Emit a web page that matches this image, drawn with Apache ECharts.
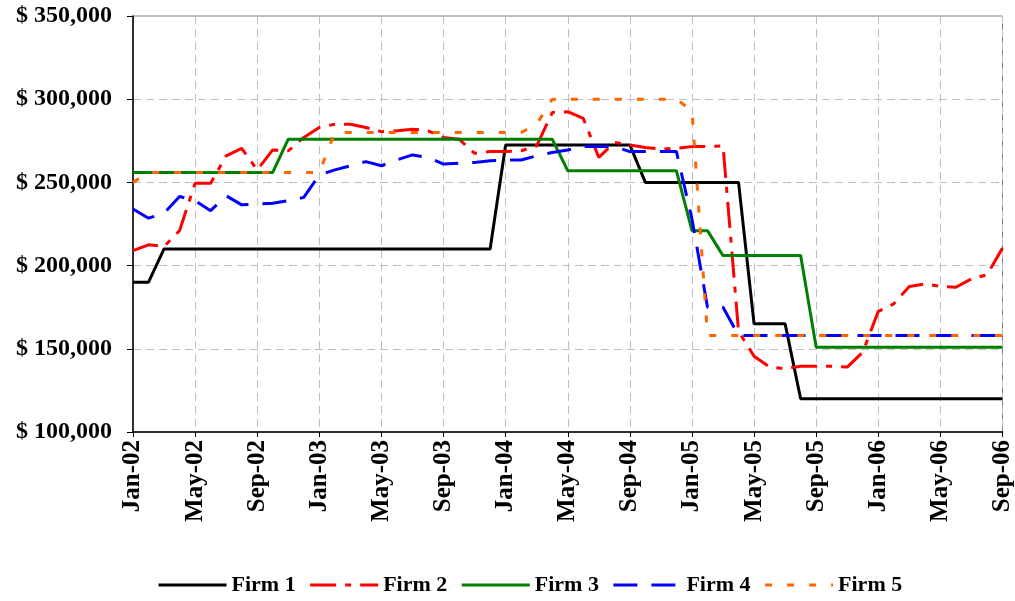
<!DOCTYPE html>
<html><head><meta charset="utf-8">
<script src="https://cdn.jsdelivr.net/npm/echarts@6/dist/echarts.min.js"></script>
<style>html,body{margin:0;padding:0;background:#fff}#c{width:1015px;height:601px}</style>
</head><body><div id="c"></div>
<script>
const months = [
 'Jan-02','Feb-02','Mar-02','Apr-02','May-02','Jun-02','Jul-02','Aug-02','Sep-02','Oct-02','Nov-02','Dec-02',
 'Jan-03','Feb-03','Mar-03','Apr-03','May-03','Jun-03','Jul-03','Aug-03','Sep-03','Oct-03','Nov-03','Dec-03',
 'Jan-04','Feb-04','Mar-04','Apr-04','May-04','Jun-04','Jul-04','Aug-04','Sep-04','Oct-04','Nov-04','Dec-04',
 'Jan-05','Feb-05','Mar-05','Apr-05','May-05','Jun-05','Jul-05','Aug-05','Sep-05','Oct-05','Nov-05','Dec-05',
 'Jan-06','Feb-06','Mar-06','Apr-06','May-06','Jun-06','Jul-06','Aug-06','Sep-06'
];
const seriesNames = ['Firm 1','Firm 2','Firm 3','Firm 4','Firm 5'];
const firm1 = [
 190000,190000,210000,210000,210000,210000,210000,210000,210000,210000,210000,210000,
 210000,210000,210000,210000,210000,210000,210000,210000,210000,210000,210000,210000,
 272500,272500,272500,272500,272500,272500,272500,272500,272500,250000,250000,250000,
 250000,250000,250000,250000,165000,165000,165000,120000,120000,120000,120000,120000,
 120000,120000,120000,120000,120000,120000,120000,120000,120000
];
const firm2 = [
 209000,212500,211500,221000,249500,249500,266000,270500,257500,269500,269000,277000,
 283000,285000,285000,283000,280500,281000,282000,281000,277000,276000,267500,268500,
 268500,269000,272000,292000,292500,288500,265000,274000,272500,271000,270000,270500,
 271500,271500,272000,160500,145500,139000,138000,139500,139500,139500,139000,148000,
 172500,177000,187500,189000,187500,187000,192000,194500,210500
];
const firm3 = [
 256000,256000,256000,256000,256000,256000,256000,256000,256000,256000,276000,276000,
 276000,276000,276000,276000,276000,276000,276000,276000,276000,276000,276000,276000,
 276000,276000,276000,276000,257000,257000,257000,257000,257000,257000,257000,257000,
 221000,221000,206000,206000,206000,206000,206000,206000,151000,151000,151000,151000,
 151000,151000,151000,151000,151000,151000,151000,151000,151000
];
const firm4 = [
 234000,228500,231500,241500,239000,233000,242000,236500,237000,237500,239000,241000,
 254500,257500,260000,262500,260000,263500,266500,265000,261000,261500,262000,263000,
 263500,263500,266000,268000,269500,271500,271500,271500,268500,268500,268500,268500,
 228000,175000,175000,158000,158000,158000,158000,158000,158000,158000,158000,158000,
 158000,158000,158000,158000,158000,158000,158000,158000,158000
];
const firm5 = [
 250000,256000,256000,256000,256000,256000,256000,256000,256000,256000,256000,256000,
 256000,280000,280000,280000,280000,280000,280000,280000,280000,280000,280000,280000,
 280000,280000,285000,300000,300000,300000,300000,300000,300000,300000,300000,300000,
 293000,158000,158000,158000,158000,158000,158000,158000,158000,158000,158000,158000,
 158000,158000,158000,158000,158000,158000,158000,158000,158000
];
const yMin = 100000, yMax = 350000, yStep = 50000;

const FONT = "'Liberation Serif','Times New Roman',serif";
const colors = ['#000000','#FF0000','#008000','#0000FF','#FF6600'];
const dashes = ['solid',[26,9,6,9],'solid',[24,14],[7,15]];
const allData = [firm1, firm2, firm3, firm4, firm5];

function money(v){ return '$ ' + String(v).replace(/\B(?=(\d{3})+(?!\d))/g, ','); }

const chart = echarts.init(document.getElementById('c'), null, {renderer:'canvas'});
chart.setOption({
  animation:false,
  backgroundColor:'#ffffff',
  grid:{left:133,right:10,top:16,bottom:169,containLabel:false,show:true,borderColor:'#808080',borderWidth:1},
  xAxis:{
    type:'category', data:months, boundaryGap:false,
    axisLine:{show:true,lineStyle:{color:'#000',width:1.5}},
    axisTick:{show:true,interval:3,length:5,lineStyle:{color:'#000'}},
    axisLabel:{interval:3,rotate:90,margin:8,color:'#000',fontFamily:FONT,fontWeight:'bold',fontSize:25},
    splitLine:{show:true,interval:3,lineStyle:{color:'#BFBFBF',type:[8,5],width:1}}
  },
  yAxis:{
    type:'value', min:yMin, max:yMax, interval:yStep,
    axisLine:{show:true,lineStyle:{color:'#000',width:1.5}},
    axisTick:{show:true,length:6,lineStyle:{color:'#000'}},
    axisLabel:{formatter:money,margin:21,color:'#000',fontFamily:FONT,fontWeight:'bold',fontSize:24},
    splitLine:{show:true,lineStyle:{color:'#BFBFBF',type:[8,5],width:1}}
  },
  legend:{
    left:157, top:574, padding:0, itemWidth:68, itemHeight:22, itemGap:13,
    itemStyle:{opacity:0},
    lineStyle:{width:3},
    textStyle:{color:'#000',fontFamily:FONT,fontWeight:'bold',fontSize:22},
    data:seriesNames
  },
  series: seriesNames.map((n,i)=>({
    name:n, type:'line', data:allData[i], symbol:'none', showSymbol:false,
    lineStyle:{color:colors[i],width:3,type:dashes[i]}, itemStyle:{color:colors[i]}
  }))
});
</script></body></html>
